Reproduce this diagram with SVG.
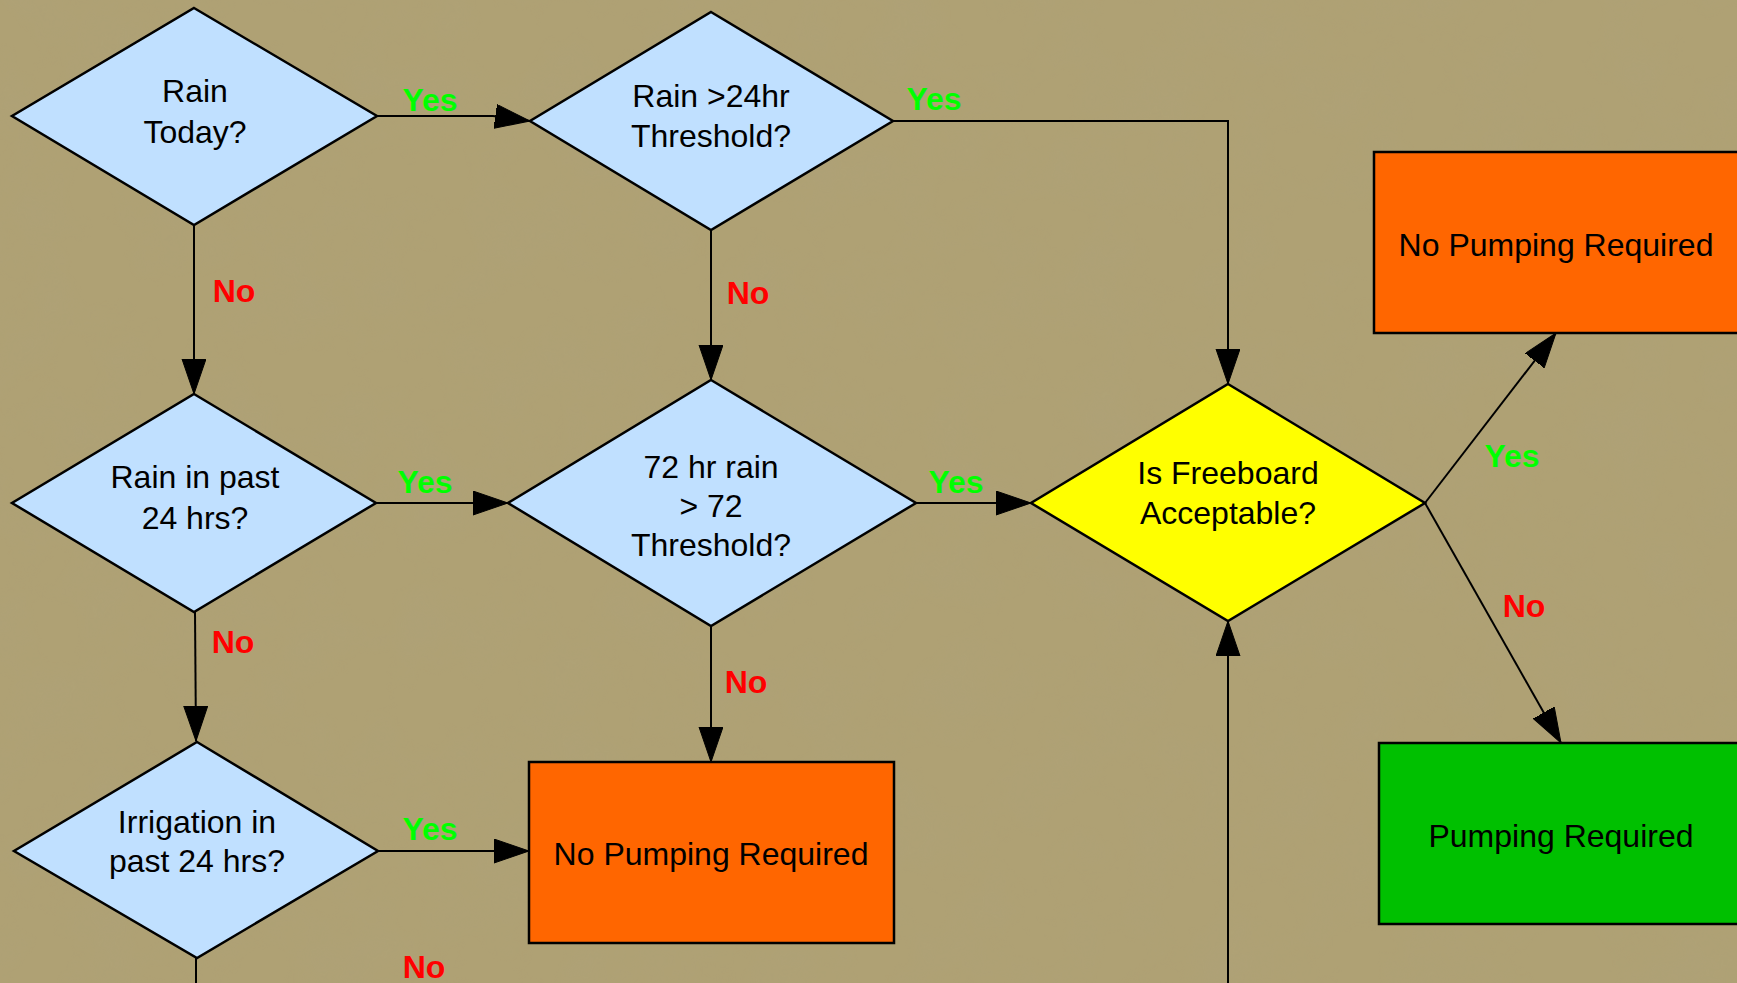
<svg xmlns="http://www.w3.org/2000/svg" width="1737" height="983" viewBox="0 0 1737 983">
<style>
.dia{fill:#c0e0ff;stroke:#000;stroke-width:2.5}
.yel{fill:#ffff00;stroke:#000;stroke-width:2.5}
.org{fill:#ff6600;stroke:#000;stroke-width:2.5}
.grn{fill:#00c000;stroke:#000;stroke-width:2.5}
.t{font-family:"Liberation Sans",Arial,sans-serif;font-size:32px;fill:#000;text-anchor:middle}
.e{fill:none;stroke:#000;stroke-width:2;marker-end:url(#ah)}
.en{fill:none;stroke:#000;stroke-width:2}
.yes{font-family:"Liberation Sans",Arial,sans-serif;font-size:32px;font-weight:bold;fill:#00ff00;text-anchor:middle}
.no{font-family:"Liberation Sans",Arial,sans-serif;font-size:32px;font-weight:bold;fill:#ff0000;text-anchor:middle}
</style>
<defs>
<marker id="ah" markerUnits="userSpaceOnUse" markerWidth="36" markerHeight="26" refX="35" refY="12" orient="auto" viewBox="0 0 36 26">
<path d="M0,0 L35,12 L0,24 z" fill="#000" stroke="#000" stroke-width="1"/>
</marker>
<filter id="tex" x="0" y="0" width="100%" height="100%">
<feTurbulence type="fractalNoise" baseFrequency="0.015" numOctaves="5" seed="7" result="n"/>
<feColorMatrix in="n" type="matrix" values="0 0 0 0 0.42  0 0 0 0 0.36  0 0 0 0 0.2  0 0 0 1.1 -0.45"/>
</filter>
</defs>
<rect width="1737" height="983" fill="#afa174"/>
<rect width="1737" height="983" filter="url(#tex)" opacity="0.6"/>

<g id="connectors">
<path class="e" d="M377,116 L493,116 L530,121"/>
<path class="e" d="M194,225 L194,394"/>
<path class="e" d="M893,121 L1228,121 L1228,384"/>
<path class="e" d="M711,230 L711,380"/>
<path class="e" d="M376,503 L508,503"/>
<path class="e" d="M195,612 L196,741"/>
<path class="e" d="M916,503 L1031,503"/>
<path class="e" d="M711,626 L711,762"/>
<path class="e" d="M378,851 L529,851"/>
<path class="en" d="M196,958 L196,983"/>
<path class="e" d="M1228,983 L1228,621"/>
<path class="e" d="M1425,503 L1556,333"/>
<path class="e" d="M1425,503 L1561,743"/>
<text class="yes" x="430" y="111">Yes</text>
<text class="no" x="234" y="302">No</text>
<text class="yes" x="934" y="110">Yes</text>
<text class="no" x="748" y="304">No</text>
<text class="yes" x="425" y="493">Yes</text>
<text class="no" x="233" y="653">No</text>
<text class="yes" x="956" y="493">Yes</text>
<text class="no" x="746" y="693">No</text>
<text class="yes" x="430" y="840">Yes</text>
<text class="no" x="424" y="978">No</text>
<text class="yes" x="1512" y="467">Yes</text>
<text class="no" x="1524" y="617">No</text>
</g>

<g id="rain_today">
<polygon class="dia" points="194,8 377,116 194,225 12,116"/>
<text class="t" x="195" y="102">Rain</text>
<text class="t" x="195" y="143">Today?</text>
</g>
<g id="rain_24hr_threshold">
<polygon class="dia" points="711,12 893,121 711,230 530,121"/>
<text class="t" x="711" y="107">Rain &gt;24hr</text>
<text class="t" x="711" y="147">Threshold?</text>
</g>
<g id="rain_past_24">
<polygon class="dia" points="194,394 376,503 194,612 12,503"/>
<text class="t" x="195" y="488">Rain in past</text>
<text class="t" x="195" y="529">24 hrs?</text>
</g>
<g id="rain_72hr">
<polygon class="dia" points="711,380 916,503 711,626 508,503"/>
<text class="t" x="711" y="478">72 hr rain</text>
<text class="t" x="711" y="517">&gt; 72</text>
<text class="t" x="711" y="556">Threshold?</text>
</g>
<g id="freeboard">
<polygon class="yel" points="1228,384 1425,503 1228,621 1031,503"/>
<text class="t" x="1228" y="484">Is Freeboard</text>
<text class="t" x="1228" y="524">Acceptable?</text>
</g>
<g id="irrigation">
<polygon class="dia" points="197,742 378,851 197,958 14,851"/>
<text class="t" x="197" y="833">Irrigation in</text>
<text class="t" x="197" y="872">past 24 hrs?</text>
</g>
<g id="no_pump_mid">
<rect class="org" x="529" y="762" width="365" height="181"/>
<text class="t" x="711" y="865">No Pumping Required</text>
</g>
<g id="no_pump_top">
<rect class="org" x="1374" y="152" width="366" height="181"/>
<text class="t" x="1556" y="256">No Pumping Required</text>
</g>
<g id="pumping_required">
<rect class="grn" x="1379" y="743" width="366" height="181"/>
<text class="t" x="1561" y="847">Pumping Required</text>
</g>
</svg>
